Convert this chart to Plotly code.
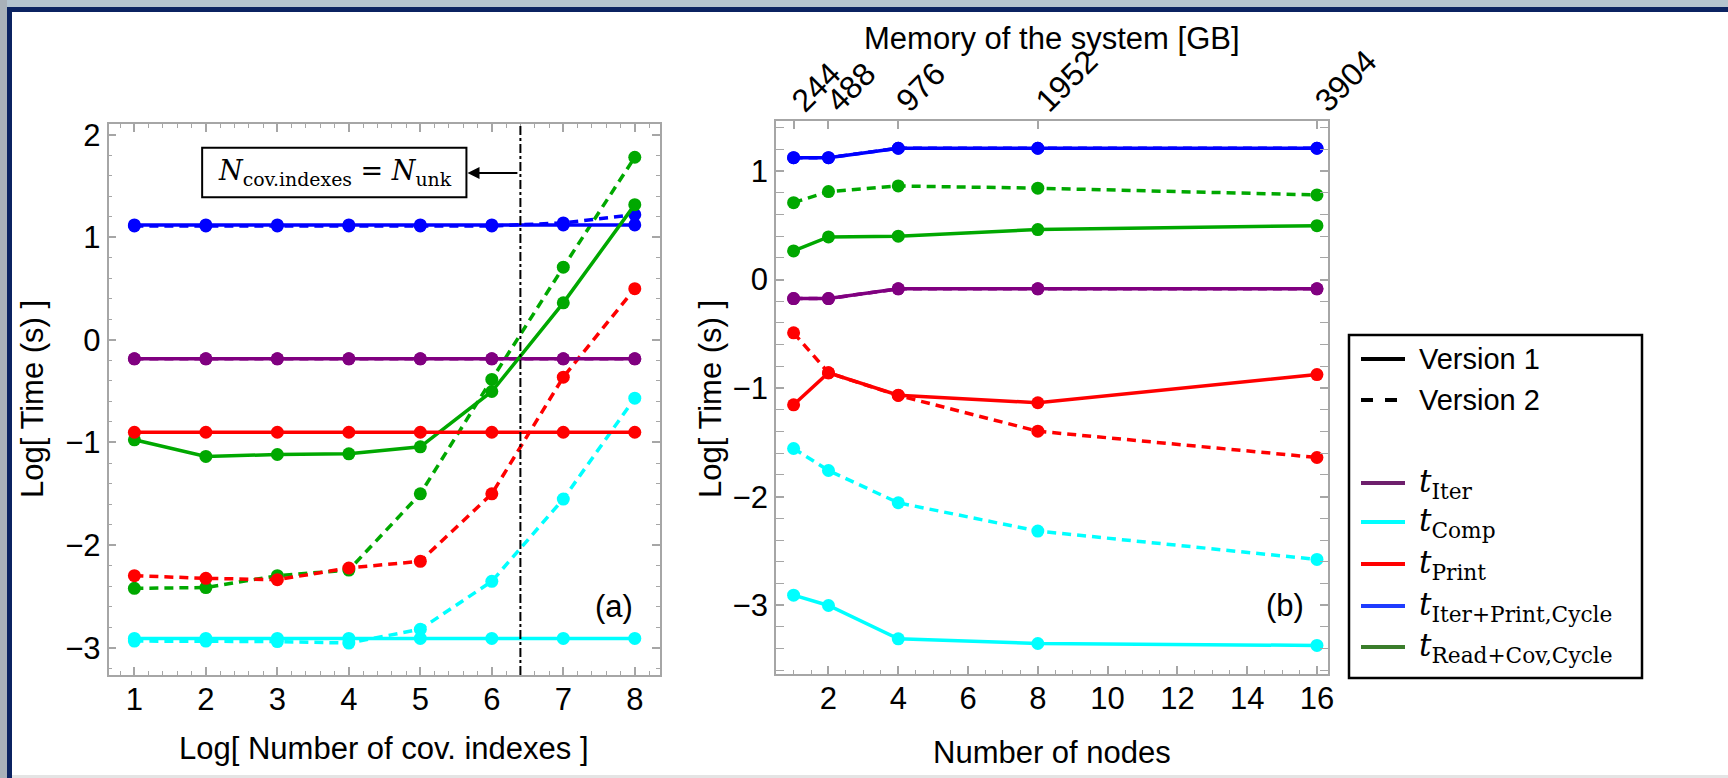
import plotly.graph_objects as go

W, H = 1728, 778

# ---------------- data: panel (a) ----------------
cov_log = [1, 2, 3, 4, 5, 6, 7, 8]
a_iter_v1 = [-0.185, -0.185, -0.185, -0.185, -0.185, -0.185, -0.185, -0.185]
a_iter_v2 = [-0.185, -0.185, -0.185, -0.185, -0.185, -0.185, -0.185, -0.185]
a_comp_v1 = [-2.91, -2.91, -2.91, -2.91, -2.91, -2.91, -2.91, -2.91]
a_comp_v2 = [-2.935, -2.935, -2.94, -2.955, -2.82, -2.353, -1.551, -0.568]
a_print_v1 = [-0.90, -0.90, -0.90, -0.90, -0.90, -0.90, -0.90, -0.90]
a_print_v2 = [-2.298, -2.324, -2.337, -2.223, -2.158, -1.50, -0.363, 0.499]
a_ipc_v1 = [1.12, 1.12, 1.12, 1.12, 1.12, 1.12, 1.12, 1.12]
a_ipc_v2 = [1.11, 1.11, 1.11, 1.11, 1.11, 1.11, 1.14, 1.22]
a_rcc_v1 = [-0.974, -1.136, -1.117, -1.110, -1.042, -0.503, 0.361, 1.318]
a_rcc_v2 = [-2.421, -2.414, -2.298, -2.243, -1.50, -0.385, 0.709, 1.78]
n_unk_log = 6.4

# ---------------- data: panel (b) ----------------
nodes = [1, 2, 4, 8, 16]
memory_gb = [244, 488, 976, 1952, 3904]
b_iter_v1 = [-0.175, -0.175, -0.086, -0.086, -0.086]
b_iter_v2 = [-0.175, -0.175, -0.086, -0.086, -0.086]
b_comp_v1 = [-2.907, -3.002, -3.309, -3.352, -3.37]
b_comp_v2 = [-1.556, -1.759, -2.056, -2.317, -2.578]
b_print_v1 = [-1.154, -0.859, -1.065, -1.135, -0.875]
b_print_v2 = [-0.491, -0.859, -1.068, -1.397, -1.639]
b_ipc_v1 = [1.122, 1.122, 1.209, 1.209, 1.209]
b_ipc_v2 = [1.122, 1.122, 1.209, 1.209, 1.209]
b_rcc_v1 = [0.263, 0.392, 0.399, 0.46, 0.496]
b_rcc_v2 = [0.708, 0.81, 0.862, 0.841, 0.779]

C_ITER = "#800080"
C_COMP = "#00ffff"
C_PRINT = "#ff0000"
C_IPC = "#0000ff"
C_RCC = "#00a800"

SANS = "Liberation Sans, Arial, sans-serif"
SERIF = "DejaVu Serif, Liberation Serif, serif"
FS = 31


def px(x):
    return x / W


def py(y):
    return 1 - y / H


fig = go.Figure()


def add(x, y, color, dashed, xa="x", ya="y"):
    fig.add_trace(go.Scatter(
        x=x, y=y, mode="lines+markers", xaxis=xa, yaxis=ya, showlegend=False,
        line=dict(color=color, width=3.5, dash="9px,6px" if dashed else "solid"),
        marker=dict(color=color, size=13), hoverinfo="skip"))


# panel (a): dashed (version 2) first, solid on top
for ys, c in [(a_iter_v2, C_ITER), (a_ipc_v2, C_IPC), (a_rcc_v2, C_RCC),
              (a_print_v2, C_PRINT), (a_comp_v2, C_COMP)]:
    add(cov_log, ys, c, True)
for ys, c in [(a_iter_v1, C_ITER), (a_ipc_v1, C_IPC), (a_rcc_v1, C_RCC),
              (a_print_v1, C_PRINT), (a_comp_v1, C_COMP)]:
    add(cov_log, ys, c, False)

# panel (b)
for ys, c in [(b_iter_v2, C_ITER), (b_ipc_v2, C_IPC), (b_rcc_v2, C_RCC),
              (b_print_v2, C_PRINT), (b_comp_v2, C_COMP)]:
    add(nodes, ys, c, True, "x2", "y2")
for ys, c in [(b_iter_v1, C_ITER), (b_ipc_v1, C_IPC), (b_rcc_v1, C_RCC),
              (b_print_v1, C_PRINT), (b_comp_v1, C_COMP)]:
    add(nodes, ys, c, False, "x2", "y2")

# invisible trace on the memory (top) axis
fig.add_trace(go.Scatter(x=nodes, y=b_ipc_v1, xaxis="x3", yaxis="y2", mode="markers",
                         marker=dict(opacity=0), showlegend=False, hoverinfo="skip"))

AX = dict(showline=True, linecolor="#a6a6a6", linewidth=1.5, ticks="inside",
          tickcolor="#a6a6a6", ticklen=8, tickwidth=1.5, showgrid=False, zeroline=False,
          automargin=False, tickfont=dict(family=SANS, size=FS, color="black"))
MINOR = dict(ticks="inside", ticklen=4, tickcolor="#a6a6a6", tickwidth=1, showgrid=False)

fig.update_layout(
    width=W, height=H, autosize=False, showlegend=False,
    margin=dict(l=0, r=0, t=0, b=0, pad=0, autoexpand=False),
    paper_bgcolor="white", plot_bgcolor="white",
    xaxis=dict(**AX, domain=[px(108.5), px(659.8)], range=[0.638, 8.35], dtick=1, tick0=0,
               mirror="allticks", minor=dict(**MINOR, dtick=0.2), anchor="y", ticklabelstandoff=-4),
    yaxis=dict(**AX, domain=[py(675), py(124)], range=[-3.266, 2.104], dtick=1, tick0=0,
               mirror="allticks", minor=dict(**MINOR, dtick=0.2), anchor="x"),
    xaxis2=dict(**AX, domain=[px(775.9), px(1328.1)], range=[0.493, 16.32], dtick=2, tick0=0,
                mirror=False, minor=dict(**MINOR, dtick=0.5), anchor="y2", ticklabelstandoff=-4),
    yaxis2=dict(**AX, domain=[py(674), py(121)], range=[-3.633, 1.46], dtick=1, tick0=0,
                mirror="allticks", minor=dict(**MINOR, dtick=0.2), anchor="x2"),
    xaxis3=dict(showline=True, linecolor="#a6a6a6", linewidth=1.5, ticks="inside",
                tickcolor="#a6a6a6", ticklen=8, tickwidth=1.5, showgrid=False, zeroline=False,
                automargin=False, ticklabelstandoff=-12,
                overlaying="x2", side="top", anchor="y2", range=[0.493, 16.32],
                tickmode="array", tickvals=nodes, ticktext=[str(m) for m in memory_gb],
                tickangle=-45, tickfont=dict(family=SANS, size=32, color="black")),
)

ann = []
shapes = []


def label(text, x, y, angle=0, size=FS):
    ann.append(dict(text=text, x=px(x), y=py(y), xref="paper", yref="paper", xanchor="center",
                    yanchor="middle", textangle=angle, showarrow=False,
                    font=dict(family=SANS, size=size, color="black")))


# axis titles and panel tags
label("Log[ Number of cov. indexes ]", 384, 748)
label("Number of nodes", 1052, 752)
label("Memory of the system [GB]", 1052, 38)
label("Log[ Time (s) ]", 32, 399, -90)
label("Log[ Time (s) ]", 710, 399, -90)
label("(a)", 614, 606)
label("(b)", 1285, 605)

# N_cov.indexes = N_unk box with arrow
shapes.append(dict(type="line", xref="x", yref="y", x0=n_unk_log, x1=n_unk_log, y0=-3.266, y1=2.104,
                   line=dict(color="black", width=2, dash="dashdot")))
shapes.append(dict(type="rect", xref="x", yref="y", x0=1.948, x1=5.645, y0=1.39, y1=1.873,
                   line=dict(color="black", width=2), fillcolor="white"))
ann.append(dict(text="<i>N</i><sub>cov.indexes</sub> = <i>N</i><sub>unk</sub>", x=3.8, y=1.63,
                xref="x", yref="y", xanchor="center", yanchor="middle", showarrow=False,
                font=dict(family=SERIF, size=27, color="black")))
ann.append(dict(text=" ", x=5.66, y=1.627, ax=n_unk_log, ay=1.627, xref="x", yref="y", axref="x", ayref="y",
                showarrow=True, arrowhead=2, arrowsize=1.2, arrowwidth=2, arrowcolor="black"))

# legend box
shapes.append(dict(type="rect", xref="paper", yref="paper", x0=px(1349), x1=px(1642), y0=py(678), y1=py(335),
                   line=dict(color="black", width=2.5), fillcolor="white"))
leg = [
    (359, "black", "solid", "Version 1", SANS),
    (400, "black", "dash", "Version 2", SANS),
    (483, "#6e1f6c", "solid", "<i>t</i><sub>Iter</sub>", SERIF),
    (522, "#00ffff", "solid", "<i>t</i><sub>Comp</sub>", SERIF),
    (564, "#ff0000", "solid", "<i>t</i><sub>Print</sub>", SERIF),
    (606, "#1f3cff", "solid", "<i>t</i><sub>Iter+Print,Cycle</sub>", SERIF),
    (647, "#3a7d2b", "solid", "<i>t</i><sub>Read+Cov,Cycle</sub>", SERIF),
]
for yy, col, dsh, txt, fam in leg:
    shapes.append(dict(type="line", xref="paper", yref="paper", x0=px(1361), x1=px(1405), y0=py(yy), y1=py(yy),
                       line=dict(color=col, width=4, dash=dsh)))
    ann.append(dict(text=txt, x=px(1417), y=py(yy), xref="paper", yref="paper", xanchor="left",
                    yanchor="middle", showarrow=False,
                    font=dict(family=fam, size=29 if fam == SANS else 31, color="black")))

# slide frame decoration
shapes += [
    dict(type="rect", xref="paper", yref="paper", x0=0, x1=1, y0=py(7), y1=1, line=dict(width=0),
         fillcolor="#b4c4cf", layer="below"),
    dict(type="rect", xref="paper", yref="paper", x0=0, x1=px(7), y0=0, y1=1, line=dict(width=0),
         fillcolor="#a9b1b9", layer="below"),
    dict(type="rect", xref="paper", yref="paper", x0=px(7), x1=1, y0=py(12), y1=py(7), line=dict(width=0),
         fillcolor="#0b2361", layer="below"),
    dict(type="rect", xref="paper", yref="paper", x0=px(7), x1=px(12), y0=0, y1=py(7), line=dict(width=0),
         fillcolor="#0b2361", layer="below"),
    dict(type="rect", xref="paper", yref="paper", x0=px(12), x1=1, y0=0, y1=py(775), line=dict(width=0),
         fillcolor="#e4e4e4", layer="below"),
]

fig.update_layout(annotations=ann, shapes=shapes)
fig.write_html("out.html")
